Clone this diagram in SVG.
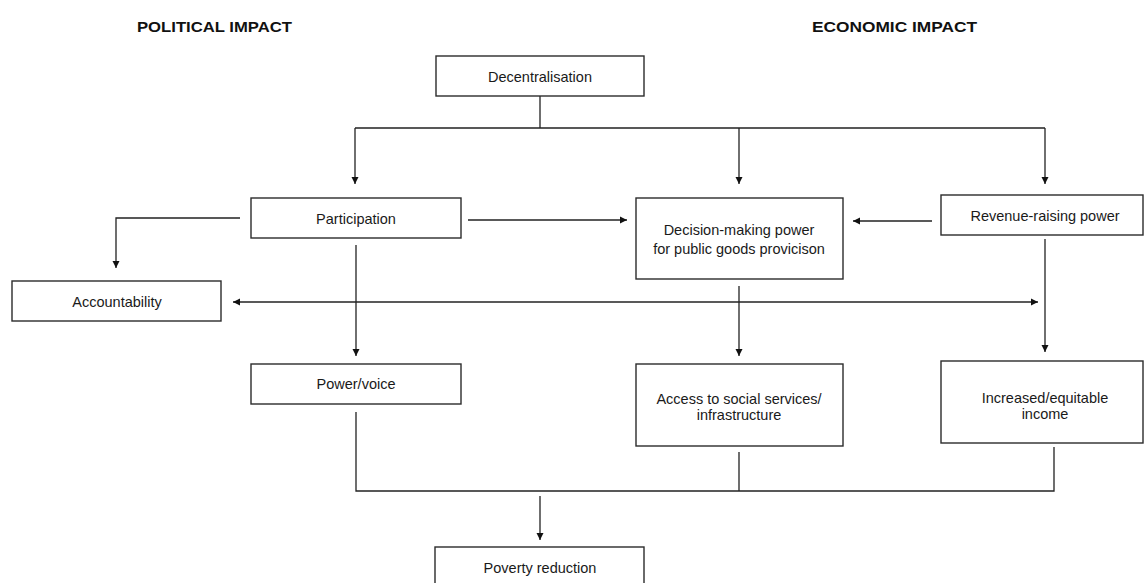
<svg xmlns="http://www.w3.org/2000/svg" width="1147" height="583" viewBox="0 0 1147 583">
  <style>
    .box { fill: #ffffff; stroke: #2b2b2b; stroke-width: 1.4; }
    .lbl { font-family: "Liberation Sans", Arial, sans-serif; font-size: 14.5px; fill: #1a1a1a; text-anchor: middle; }
    .head { font-family: "Liberation Sans", Arial, sans-serif; font-size: 14px; font-weight: bold; fill: #111; }
    .wire { fill: none; stroke: #222; stroke-width: 1.3; }
    .arrow { fill: none; stroke: #222; stroke-width: 1.3; marker-end: url(#head); }
  </style>
  <defs>
    <marker id="head" markerUnits="userSpaceOnUse" markerWidth="8" markerHeight="8" refX="7" refY="4" orient="auto-start-reverse">
      <path d="M0,0.5 L7,4 L0,7.5 z" fill="#111"/>
    </marker>
  </defs>
  <rect width="1147" height="583" fill="#ffffff"/>

  <!-- column headings -->
  <text class="head" x="137" y="32" textLength="155" lengthAdjust="spacingAndGlyphs">POLITICAL IMPACT</text>
  <text class="head" x="812" y="32" textLength="165" lengthAdjust="spacingAndGlyphs">ECONOMIC IMPACT</text>

  <!-- connectors -->
  <g id="connectors">
    <path class="wire" d="M540,96 V128 M355,128 H1045"/>
    <path class="arrow" d="M355,128 V184"/>
    <path class="arrow" d="M739,128 V184"/>
    <path class="arrow" d="M1045,128 V184"/>
    <path class="arrow" d="M468,220 H627"/>
    <path class="arrow" d="M932,221 H853"/>
    <path class="arrow" d="M240,218 H116 V268"/>
    <path class="arrow" d="M356,245 V356"/>
    <path class="arrow" d="M233,302 H1038" marker-start="url(#head)"/>
    <path class="arrow" d="M739,286 V356"/>
    <path class="arrow" d="M1045,239 V352"/>
    <path class="wire" d="M356,412 V491 H1054 V447 M739,452 V491"/>
    <path class="arrow" d="M540,496 V540"/>
  </g>

  <g id="decentralisation">
    <rect class="box" x="436" y="56" width="208" height="40"/>
    <text class="lbl" x="540" y="82">Decentralisation</text>
  </g>
  <g id="participation">
    <rect class="box" x="251" y="198" width="210" height="40"/>
    <text class="lbl" x="356" y="224">Participation</text>
  </g>
  <g id="decision-making">
    <rect class="box" x="636" y="198" width="207" height="81"/>
    <text class="lbl" x="739" y="235">Decision-making power</text>
    <text class="lbl" x="739" y="254">for public goods provicison</text>
  </g>
  <g id="revenue-raising">
    <rect class="box" x="941" y="195" width="202" height="40"/>
    <text class="lbl" x="1045" y="221">Revenue-raising power</text>
  </g>
  <g id="accountability">
    <rect class="box" x="12" y="281" width="209" height="40"/>
    <text class="lbl" x="117" y="307">Accountability</text>
  </g>
  <g id="power-voice">
    <rect class="box" x="251" y="364" width="210" height="40"/>
    <text class="lbl" x="356" y="389">Power/voice</text>
  </g>
  <g id="access">
    <rect class="box" x="636" y="364" width="207" height="82"/>
    <text class="lbl" x="739" y="404">Access to social services/</text>
    <text class="lbl" x="739" y="420">infrastructure</text>
  </g>
  <g id="income">
    <rect class="box" x="941" y="361" width="202" height="82"/>
    <text class="lbl" x="1045" y="403">Increased/equitable</text>
    <text class="lbl" x="1045" y="419">income</text>
  </g>
  <g id="poverty-reduction">
    <rect class="box" x="435" y="547" width="209" height="50"/>
    <text class="lbl" x="540" y="573">Poverty reduction</text>
  </g>
</svg>
